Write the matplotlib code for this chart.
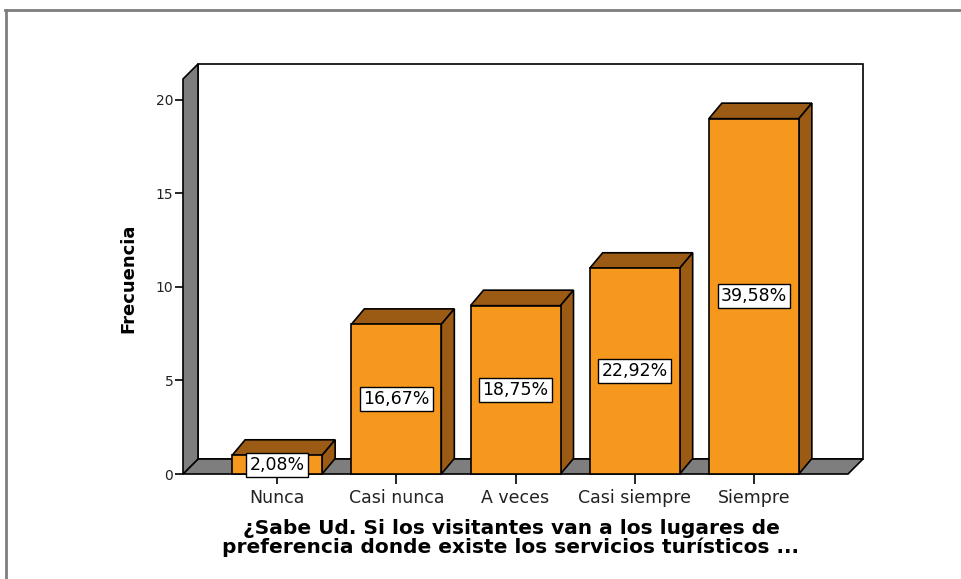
import matplotlib
matplotlib.use("Agg")
import matplotlib.pyplot as plt
from matplotlib.patches import Polygon
from matplotlib.lines import Line2D

categorias = ["Nunca", "Casi nunca", "A veces", "Casi siempre", "Siempre"]
frecuencias = [1, 8, 9, 11, 19]
y_ticks = [0, 5, 10, 15, 20]
titulo_x = "¿Sabe Ud. Si los visitantes van a los lugares de\npreferencia donde existe los servicios turísticos ..."
titulo_y = "Frecuencia"

naranja = "#F7981E"
marron = "#9C5B14"
gris = "#7E7E7E"

W, H = 961, 579
fig = plt.figure(figsize=(W / 100, H / 100), dpi=100)

# axes = front plane of the 3D box (pixel coords from the reference)
left_px, right_px, bottom_px, top_px = 183, 848, 474, 79
ax = fig.add_axes([left_px / W, 1 - bottom_px / H,
                   (right_px - left_px) / W, (bottom_px - top_px) / H])
x0, x1 = -0.79, 4.79
ytop = 21.12
ax.set_xlim(x0, x1)
ax.set_ylim(0, ytop)
for s in ax.spines.values():
    s.set_visible(False)
ax.patch.set_visible(False)

px_x = (right_px - left_px) / (x1 - x0)   # pixels per x unit
px_y = (bottom_px - top_px) / ytop        # pixels per y unit
dx, dy = 15 / px_x, 15 / px_y             # wall depth
bdx, bdy = 13 / px_x, 15.5 / px_y         # bar depth

def poly(pts, fc, z):
    ax.add_patch(Polygon(pts, closed=True, facecolor=fc, edgecolor="black",
                         linewidth=1.2, clip_on=False, zorder=z))

# back wall, floor, left wall
poly([(x0 + dx, dy), (x1 + dx, dy), (x1 + dx, ytop + dy), (x0 + dx, ytop + dy)], "white", 1)
poly([(x0, 0), (x1, 0), (x1 + dx, dy), (x0 + dx, dy)], gris, 2)
poly([(x0, 0), (x0 + dx, dy), (x0 + dx, ytop + dy), (x0, ytop)], gris, 2)

ancho = 90 / px_x
total = sum(frecuencias)
for i, v in enumerate(frecuencias):
    l, r = i - ancho / 2, i + ancho / 2
    poly([(l, v), (r, v), (r + bdx, v + bdy), (l + bdx, v + bdy)], marron, 3)
    poly([(r, 0), (r + bdx, bdy), (r + bdx, v + bdy), (r, v)], marron, 3)
    poly([(l, 0), (r, 0), (r, v), (l, v)], naranja, 4)
    etiqueta = f"{v / total * 100:.2f}%".replace(".", ",")
    ax.text(i, v / 2, etiqueta, ha="center", va="center", fontsize=12.5, zorder=6,
            bbox=dict(boxstyle="square,pad=0.18", facecolor="white",
                      edgecolor="black", linewidth=1))

ax.set_xticks(range(len(categorias)))
ax.set_xticklabels(categorias, fontsize=12.5, color="#222222")
ax.set_yticks(y_ticks)
ax.set_yticklabels([str(t) for t in y_ticks], fontsize=10, color="#222222")
ax.tick_params(axis="x", length=7, width=1.2, pad=4)
ax.tick_params(axis="y", length=6, width=1.2, pad=1)

fig.text(128 / W, 1 - 278 / H, titulo_y, rotation=90, ha="center", va="center",
         fontsize=13, fontweight="bold")
fig.text(511 / W, 1 - 538 / H, titulo_x, ha="center", va="center",
         fontsize=14.5, fontweight="bold", linespacing=0.95)

# outer frame lines
fig.add_artist(Line2D([5 / W, 1], [1 - 10 / H, 1 - 10 / H], color=gris, linewidth=2))
fig.add_artist(Line2D([6 / W, 6 / W], [0, 1 - 10 / H], color=gris, linewidth=2))

fig.savefig("out.png", dpi=100)
